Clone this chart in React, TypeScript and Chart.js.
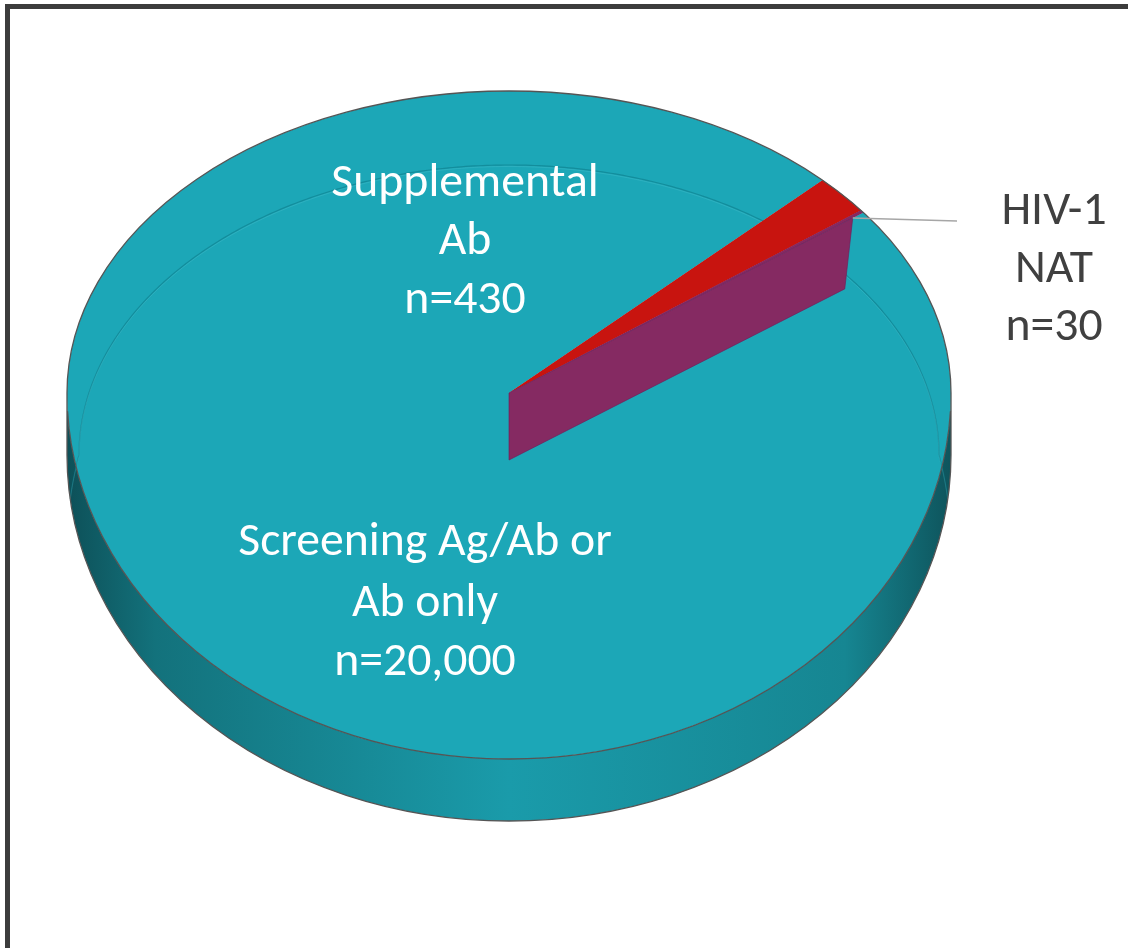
import { useEffect, useRef } from "react";
import { Chart, registerables } from "chart.js";

Chart.register(...registerables);

// ---- data ----
const categories = ["Screening Ag/Ab or Ab only", "Supplemental Ab", "HIV-1 NAT"];
const counts = [20000, 430, 30];
const sliceColors = ["#1ca7b7", "#c8140f", "#852a62"];
const labelLines = [
  ["Screening Ag/Ab or", "Ab only", "n=20,000"],
  ["Supplemental", "Ab", "n=430"],
  ["HIV-1", "NAT", "n=30"],
];

// ---- layout / style (not data) ----
const W = 1128;
const H = 948;
const PX = 509; // projected pie centre
const PY = 393;
const RX = 442; // horizontal radius on screen
const RY_UP = 302; // far half vertical radius (perspective)
const RY_DOWN = 366; // near half vertical radius
const SIDE_D = 62; // thickness of disc at the front
const WALL_D = 67; // thickness of the cut wall
const ROTATION = 53.3; // degrees
const FONT_FAMILY = 'Carlito, Calibri, Lato, "Open Sans", sans-serif';
const labelAnchors = [
  { x: 425, y: [555, 616, 675], color: "#ffffff" },
  { x: 465, y: [196, 254, 313], color: "#ffffff" },
  { x: 1054, y: [224, 282, 340], color: "#404040" },
];
const leaderEnd = { x: 957, y: 221 };

function shade(hex: string, f: number) {
  const n = parseInt(hex.slice(1), 16);
  const r = Math.round(((n >> 16) & 255) * f);
  const g = Math.round(((n >> 8) & 255) * f);
  const b = Math.round((n & 255) * f);
  return `rgb(${r},${g},${b})`;
}

function proj(a: number, frac = 1) {
  const s = Math.sin(a);
  return {
    x: PX + RX * frac * Math.cos(a),
    y: PY + (s < 0 ? RY_UP : RY_DOWN) * frac * s,
  };
}

function drawTop(ctx: CanvasRenderingContext2D, arcs: any[], which: number[], halvesIdx: number[]) {
  const cx = arcs[0].x;
  const cy = arcs[0].y;
  const R = arcs[0].outerRadius;
  const kx = RX / R;
  const halves: [number, number, number][] = [
    [0, PY, RY_UP],
    [PY, H, RY_DOWN],
  ];
  halvesIdx.forEach((hi) => {
    const [y0, y1, ry] = halves[hi];
    ctx.save();
    ctx.beginPath();
    ctx.rect(0, y0, W, y1 - y0);
    ctx.clip();
    ctx.translate(PX, PY);
    ctx.scale(kx, ry / R);
    ctx.translate(-cx, -cy);
    which.forEach((i) => arcs[i].draw(ctx));
    ctx.restore();
  });
}

const pie3d = {
  id: "pie3d",
  beforeDatasetsDraw(chart: any) {
    const ctx: CanvasRenderingContext2D = chart.ctx;
    const meta = chart.getDatasetMeta(0);
    const arcs: any[] = meta.data;
    if (!arcs.length) return false;

    // --- front side of the disc, per slice, for the near half [0, PI] ---
    arcs.forEach((a, i) => {
      const col = sliceColors[i];
      for (let k = -1; k <= 1; k++) {
        const lo = Math.max(a.startAngle, 2 * Math.PI * k);
        const hi = Math.min(a.endAngle, Math.PI + 2 * Math.PI * k);
        if (hi <= lo) continue;
        const l = lo - 2 * Math.PI * k;
        const h = hi - 2 * Math.PI * k;
        const g = ctx.createLinearGradient(PX - RX, 0, PX + RX, 0);
        g.addColorStop(0, shade(col, 0.48));
        g.addColorStop(0.1, shade(col, 0.68));
        g.addColorStop(0.5, shade(col, 0.93));
        g.addColorStop(0.88, shade(col, 0.8));
        g.addColorStop(1, shade(col, 0.5));
        ctx.save();
        ctx.beginPath();
        ctx.ellipse(PX, PY, RX, RY_DOWN, 0, l, h, false);
        ctx.ellipse(PX, PY + SIDE_D, RX, RY_DOWN, 0, h, l, true);
        ctx.closePath();
        ctx.fillStyle = g;
        ctx.fill();
        ctx.restore();
      }
    });

    // --- top face: library arcs, drawn with a far-half and near-half projection ---
    const all = arcs.map((_, i) => i);
    drawTop(ctx, arcs, all, [0, 1]);

    // faint far-bottom rim line (seen through the bevel)
    const pts: { x: number; y: number }[] = [];
    const ramp = 0.12;
    for (let t = -Math.PI - ramp; t <= ramp + 1e-9; t += 0.01) {
      const s = Math.sin(t);
      let r = 430;
      let ry = 290;
      if (t > 0) {
        r = 430 + 12 * (t / ramp);
        ry = RY_DOWN;
      } else if (t < -Math.PI) {
        r = 430 + 12 * ((-Math.PI - t) / ramp);
        ry = RY_DOWN;
      }
      pts.push({ x: PX + r * Math.cos(t), y: PY + SIDE_D + ry * s });
    }
    ctx.save();
    ctx.beginPath();
    pts.forEach((q, i) => (i ? ctx.lineTo(q.x, q.y) : ctx.moveTo(q.x, q.y)));
    ctx.strokeStyle = "rgba(10,115,130,0.5)";
    ctx.lineWidth = 1.2;
    ctx.stroke();
    ctx.beginPath();
    pts.forEach((q, i) => (i ? ctx.lineTo(q.x, q.y + 1.5) : ctx.moveTo(q.x, q.y + 1.5)));
    ctx.strokeStyle = "rgba(120,215,225,0.18)";
    ctx.lineWidth = 1;
    ctx.stroke();
    ctx.restore();

    // small slices back on top of the faint line
    drawTop(ctx, arcs, all.slice(1), [0]);

    // --- cut wall of the last slice (visible radial face) ---
    const last = arcs[arcs.length - 1];
    const wa = last.endAngle;
    const p = proj(wa, 0.97);
    ctx.save();
    ctx.beginPath();
    ctx.moveTo(PX, PY);
    ctx.lineTo(p.x, p.y);
    ctx.lineTo(p.x - 8, p.y + WALL_D + 4);
    ctx.lineTo(PX, PY + WALL_D);
    ctx.closePath();
    ctx.fillStyle = sliceColors[arcs.length - 1];
    ctx.fill();
    ctx.strokeStyle = "rgba(110,30,90,0.8)";
    ctx.lineWidth = 0.8;
    ctx.stroke();
    ctx.restore();

    // --- outlines ---
    ctx.save();
    ctx.strokeStyle = "#555555";
    ctx.lineWidth = 1.3;
    ctx.beginPath();
    ctx.ellipse(PX, PY, RX, RY_UP, 0, Math.PI, 2 * Math.PI, false);
    ctx.lineTo(PX + RX, PY + SIDE_D);
    ctx.ellipse(PX, PY + SIDE_D, RX, RY_DOWN, 0, 0, Math.PI, false);
    ctx.closePath();
    ctx.stroke();
    ctx.beginPath();
    ctx.ellipse(PX, PY, RX, RY_DOWN, 0, 0.05, Math.PI - 0.05, false);
    ctx.stroke();
    ctx.restore();

    // --- leader line for the last slice ---
    ctx.save();
    ctx.strokeStyle = "#a6a6a6";
    ctx.lineWidth = 1.5;
    ctx.beginPath();
    ctx.moveTo(p.x, p.y);
    ctx.lineTo(leaderEnd.x, leaderEnd.y);
    ctx.stroke();
    ctx.restore();

    return false;
  },
  afterDraw(chart: any) {
    const ctx: CanvasRenderingContext2D = chart.ctx;
    ctx.save();
    ctx.font = `48px ${FONT_FAMILY}`;
    const w48 = ctx.measureText(labelLines[0][0]).width;
    let size = (48 * 374) / w48;
    size = Math.max(38, Math.min(52, size));
    ctx.font = `${size.toFixed(1)}px ${FONT_FAMILY}`;
    ctx.textAlign = "center";
    ctx.textBaseline = "alphabetic";
    labelLines.forEach((lines, i) => {
      const anc = labelAnchors[i];
      ctx.fillStyle = anc.color;
      lines.forEach((t, j) => ctx.fillText(t, anc.x, anc.y[j]));
    });
    ctx.restore();
  },
};

export default function App() {
  const ref = useRef<HTMLCanvasElement | null>(null);
  useEffect(() => {
    const canvas = ref.current;
    if (!canvas) return;
    const chart = new Chart(canvas, {
      type: "pie",
      data: {
        labels: categories,
        datasets: [
          {
            data: counts,
            backgroundColor: sliceColors,
            borderWidth: 0,
          },
        ],
      },
      options: {
        responsive: false,
        animation: false,
        devicePixelRatio: 1,
        rotation: ROTATION,
        layout: { padding: 0 },
        events: [],
        plugins: {
          legend: { display: false },
          tooltip: { enabled: false },
        },
      } as any,
      plugins: [pie3d as any],
    });
    return () => chart.destroy();
  }, []);

  return (
    <>
      <canvas
        ref={ref}
        width={W}
        height={H}
        style={{ position: "fixed", left: 0, top: 0, width: W, height: H }}
      />
      <div
        style={{
          position: "fixed",
          left: 5,
          top: 4,
          width: 1300,
          height: 1100,
          border: "5px solid #3c3c3c",
          boxSizing: "border-box",
          pointerEvents: "none",
        }}
      />
    </>
  );
}
